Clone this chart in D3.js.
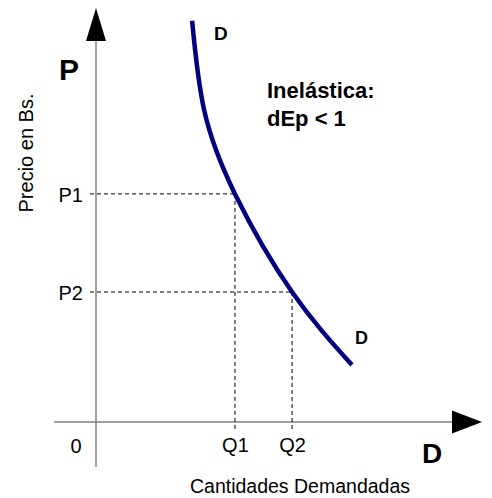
<!DOCTYPE html>
<html>
<head>
<meta charset="utf-8">
<script src="https://cdn.jsdelivr.net/npm/d3@7"></script>
<style>
  body { margin: 0; background: #fff; }
  text { font-family: Arial, "Liberation Sans", sans-serif; fill: #000; }
</style>
</head>
<body>
<svg id="chart" width="492" height="498"></svg>
<script>
// demand curve (quantity, price) in chart units
const curveQ = [24.9, 28.0, 36.0, 50.8, 66.3];
const curveP = [96.9, 75.4, 55.1, 31.4, 13.8];

// the two marked points on the curve
const qTicks = [36.0, 50.8];
const qLabels = ["Q1", "Q2"];
const pTicks = [55.1, 31.4];
const pLabels = ["P1", "P2"];

const svg = d3.select("#chart");

let x = d3.scaleLinear().domain([0, 100]).range([96, 482]);
let y = d3.scaleLinear().domain([0, 100]).range([422, 8]);

let axisColor = "#808080";
let font = "Arial, 'Liberation Sans', sans-serif";

// axes lines
svg.append("line")
    .attr("x1", x(0)).attr("x2", x(0))
    .attr("y1", 40).attr("y2", 467)
    .attr("stroke", axisColor).attr("stroke-width", 1.5);

svg.append("line")
    .attr("x1", 54).attr("x2", 453)
    .attr("y1", y(0)).attr("y2", y(0))
    .attr("stroke", axisColor).attr("stroke-width", 1.5);

// arrow heads
svg.append("path")
    .attr("d", `M${x(0)},${y(100)} L${x(0) - 10},41 L${x(0) + 10},41 Z`)
    .attr("fill", "#000");
svg.append("path")
    .attr("d", `M${x(100)},${y(0)} L452,${y(0) - 11.5} L452,${y(0) + 11.5} Z`)
    .attr("fill", "#000");

// dashed guides
let guides = qTicks.map((q, i) => ({ q: q, p: pTicks[i] }));

svg.selectAll(".hguide")
    .data(guides)
    .enter().append("line")
    .attr("class", "hguide")
    .attr("x1", x(0) - 6).attr("x2", d => x(d.q))
    .attr("y1", d => y(d.p)).attr("y2", d => y(d.p))
    .attr("stroke", "#000").attr("stroke-width", 1)
    .attr("stroke-dasharray", "4,3");

svg.selectAll(".vguide")
    .data(guides)
    .enter().append("line")
    .attr("class", "vguide")
    .attr("x1", d => x(d.q)).attr("x2", d => x(d.q))
    .attr("y1", d => y(d.p)).attr("y2", y(0) + 7)
    .attr("stroke", "#000").attr("stroke-width", 1)
    .attr("stroke-dasharray", "4,3");

// tick labels via axes
let yAxis = d3.axisLeft(y)
    .tickValues(pTicks)
    .tickFormat((d, i) => pLabels[i])
    .tickSize(0)
    .tickPadding(13);

let gy = svg.append("g")
    .attr("transform", `translate(${x(0)},0)`)
    .call(yAxis);
gy.select(".domain").remove();
gy.selectAll("text")
    .attr("dy", "0.36em")
    .style("font-size", "20px")
    .style("font-family", font);

let xAxis = d3.axisBottom(x)
    .tickValues(qTicks)
    .tickFormat((d, i) => qLabels[i])
    .tickSize(0)
    .tickPadding(16);

let gx = svg.append("g")
    .attr("transform", `translate(0,${y(0)})`)
    .call(xAxis);
gx.select(".domain").remove();
gx.selectAll("text")
    .style("font-size", "20px")
    .style("font-family", font);

svg.append("text")
    .attr("x", 76).attr("y", 453)
    .attr("text-anchor", "middle")
    .style("font-size", "20px")
    .text("0");

// demand curve
let pts = curveQ.map((q, i) => [x(q), y(curveP[i])]);
let line = d3.line().curve(d3.curveNatural);

svg.append("path")
    .attr("d", line(pts))
    .attr("fill", "none")
    .attr("stroke", "#000080")
    .attr("stroke-width", 4.5);

// labels
svg.append("text")
    .attr("x", 214).attr("y", 40)
    .style("font-size", "19px").style("font-weight", "bold")
    .text("D");

svg.append("text")
    .attr("x", 355).attr("y", 344)
    .style("font-size", "18px").style("font-weight", "bold")
    .text("D");

svg.append("text")
    .attr("x", 59).attr("y", 80)
    .style("font-size", "30px").style("font-weight", "bold")
    .text("P");

svg.append("text")
    .attr("x", 422).attr("y", 463)
    .style("font-size", "28px").style("font-weight", "bold")
    .text("D");

svg.append("text")
    .attr("transform", "translate(33,153) rotate(-90)")
    .attr("text-anchor", "middle")
    .style("font-size", "20px")
    .text("Precio en Bs.");

svg.append("text")
    .attr("x", 300).attr("y", 493)
    .attr("text-anchor", "middle")
    .style("font-size", "19.5px")
    .text("Cantidades Demandadas");

let note = svg.append("text")
    .style("font-size", "22px").style("font-weight", "bold");
note.append("tspan").attr("x", 267).attr("y", 98).text("Inelástica:");
note.append("tspan").attr("x", 267).attr("y", 126).text("dEp < 1");
</script>
</body>
</html>
